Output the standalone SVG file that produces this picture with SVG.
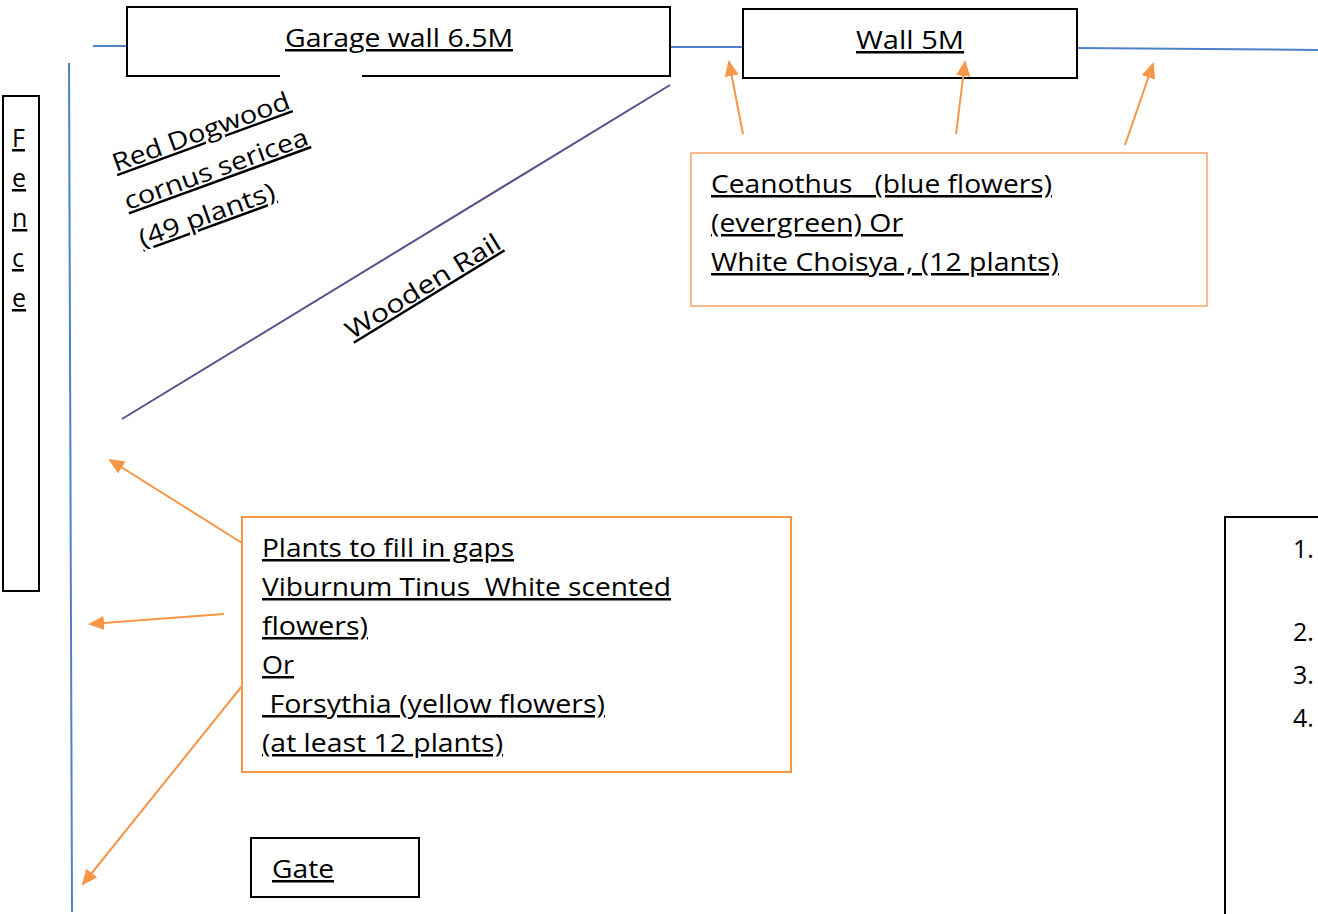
<svg xmlns="http://www.w3.org/2000/svg" width="1318" height="914" viewBox="0 0 1318 914">
<style>
text{font-family:"Open Sans","Noto Sans","Liberation Sans",sans-serif;font-size:25px;fill:#000;text-decoration:underline;text-decoration-skip-ink:none;text-decoration-thickness:2px}
.box{fill:#fff;stroke:#000;stroke-width:2}
.blue{stroke:#4F81C7;stroke-width:2;fill:none}
.arr{stroke:#F79646;stroke-width:2;fill:none;marker-end:url(#ah)}
</style>
<defs>
<marker id="ah" markerWidth="16" markerHeight="14" refX="14" refY="7" orient="auto" markerUnits="userSpaceOnUse" viewBox="0 0 16 14">
<path d="M0,0 L16,7 L0,14 z" fill="#F79646"/>
</marker>
</defs>
<rect width="1318" height="914" fill="#fff"/>
<g id="boundary">
<line class="blue" x1="93" y1="46" x2="127" y2="46"/>
<line class="blue" x1="670" y1="47" x2="743" y2="47"/>
<line class="blue" x1="1077" y1="48" x2="1318" y2="50"/>
<line class="blue" x1="69" y1="63" x2="72" y2="912"/>
</g>
<g id="garage-wall">
<rect class="box" x="127" y="7" width="543" height="69"/>
<line x1="280" y1="76" x2="362" y2="76" stroke="#fff" stroke-width="4"/>
<text x="285" y="47" textLength="228" lengthAdjust="spacingAndGlyphs">Garage wall 6.5M</text>
</g>
<g id="wall-5m">
<rect class="box" x="743" y="9" width="334" height="69"/>
<text x="856" y="49" textLength="108" lengthAdjust="spacingAndGlyphs">Wall 5M</text>
</g>
<g id="fence">
<rect class="box" x="3" y="96" width="36" height="495"/>
<text x="12" y="147">F</text>
<text x="12" y="187">e</text>
<text x="12" y="227">n</text>
<text x="12" y="267">c</text>
<text x="12" y="307">e</text>
</g>
<g id="red-dogwood" transform="translate(116,172) rotate(-20)">
<text x="0" y="0" textLength="187" lengthAdjust="spacingAndGlyphs">Red Dogwood</text>
<text x="-2" y="40" textLength="194" lengthAdjust="spacingAndGlyphs">cornus sericea</text>
<text x="-1" y="80" textLength="143" lengthAdjust="spacingAndGlyphs">(49 plants)</text>
</g>
<g id="wooden-rail">
<line x1="122" y1="419" x2="670" y2="85" stroke="#5F4B8B" stroke-width="2"/>
<text transform="translate(352,340) rotate(-31.5)" textLength="177" lengthAdjust="spacingAndGlyphs">Wooden Rail</text>
</g>
<g id="ceanothus">
<rect x="691" y="153" width="516" height="153" fill="#fff" stroke="#F8B98B" stroke-width="2"/>
<text x="711" y="193" textLength="341" lengthAdjust="spacingAndGlyphs" xml:space="preserve">Ceanothus   (blue flowers)</text>
<text x="711" y="232" textLength="192" lengthAdjust="spacingAndGlyphs">(evergreen) Or</text>
<text x="711" y="271" textLength="348" lengthAdjust="spacingAndGlyphs">White Choisya , (12 plants)</text>
</g>
<g id="gap-plants">
<rect x="242" y="517" width="549" height="255" fill="#fff" stroke="#F79646" stroke-width="2"/>
<text x="262" y="557" textLength="252" lengthAdjust="spacingAndGlyphs">Plants to fill in gaps</text>
<text x="262" y="596" textLength="409" lengthAdjust="spacingAndGlyphs" xml:space="preserve">Viburnum Tinus  White scented</text>
<text x="262" y="635" textLength="106" lengthAdjust="spacingAndGlyphs">flowers)</text>
<text x="262" y="674" textLength="32" lengthAdjust="spacingAndGlyphs">Or</text>
<text x="262" y="713" textLength="343" lengthAdjust="spacingAndGlyphs" xml:space="preserve"> Forsythia (yellow flowers)</text>
<text x="262" y="752" textLength="241" lengthAdjust="spacingAndGlyphs">(at least 12 plants)</text>
</g>
<g id="gate">
<rect class="box" x="251" y="838" width="168" height="59"/>
<text x="272" y="878" textLength="62" lengthAdjust="spacingAndGlyphs">Gate</text>
</g>
<g id="list-box">
<rect class="box" x="1225" y="517" width="100" height="410"/>
<text x="1293" y="558" style="text-decoration:none">1.</text>
<text x="1293" y="641" style="text-decoration:none">2.</text>
<text x="1293" y="684" style="text-decoration:none">3.</text>
<text x="1293" y="727" style="text-decoration:none">4.</text>
</g>
<g id="connectors">
<line class="arr" x1="743" y1="134" x2="729" y2="62"/>
<line class="arr" x1="956" y1="134" x2="965" y2="62"/>
<line class="arr" x1="1125" y1="145" x2="1153" y2="64"/>
<line class="arr" x1="242" y1="543" x2="110" y2="460"/>
<line class="arr" x1="224" y1="614" x2="90" y2="624"/>
<line class="arr" x1="242" y1="686" x2="83" y2="884"/>
</g>
</svg>
